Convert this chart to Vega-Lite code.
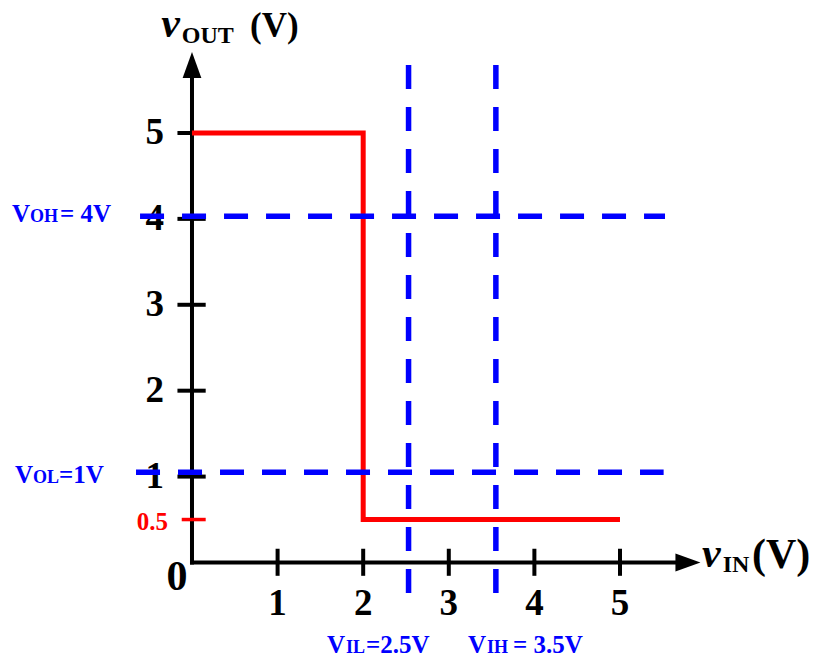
{
  "$schema": "https://vega.github.io/schema/vega-lite/v6.json",
  "width": 819,
  "height": 663,
  "autosize": "none",
  "padding": 0,
  "background": "white",
  "config": {"view": {"stroke": null}},
  "encoding": {
    "x": {"field": "x", "type": "quantitative", "scale": {"domain": [-2.243, 7.325], "nice": false, "zero": false}, "axis": null},
    "y": {"field": "y", "type": "quantitative", "scale": {"domain": [-1.17, 6.548], "nice": false, "zero": false}, "axis": null}
  },
  "layer": [
    {
      "data": {"values": [{"x": 0, "y": 0, "x2": 0, "y2": 5.75}, {"x": 0, "y": 0, "x2": 5.75, "y2": 0}]},
      "mark": {"type": "rule", "color": "black", "strokeWidth": 4, "strokeCap": "square"},
      "encoding": {"x2": {"field": "x2"}, "y2": {"field": "y2"}}
    },
    {
      "data": {"values": [{"x": 0, "y": 5.792}]},
      "mark": {"type": "point", "shape": "M0,-1L0.72,1L-0.72,1Z", "size": 676, "filled": true, "color": "black", "opacity": 1, "strokeWidth": 0}
    },
    {
      "data": {"values": [{"x": 5.794, "y": 0}]},
      "mark": {"type": "point", "shape": "M0,-1L0.72,1L-0.72,1Z", "size": 625, "angle": 90, "filled": true, "color": "black", "opacity": 1, "strokeWidth": 0}
    },
    {
      "data": {"values": [
        {"x": -0.17, "x2": 0.16, "y": 1, "y2": 1},
        {"x": -0.17, "x2": 0.16, "y": 2, "y2": 2},
        {"x": -0.17, "x2": 0.16, "y": 3, "y2": 3},
        {"x": -0.17, "x2": 0.16, "y": 4, "y2": 4},
        {"x": -0.17, "x2": 0.16, "y": 5, "y2": 5},
        {"x": 1, "x2": 1, "y": -0.155, "y2": 0.16},
        {"x": 2, "x2": 2, "y": -0.155, "y2": 0.16},
        {"x": 3, "x2": 3, "y": -0.155, "y2": 0.16},
        {"x": 4, "x2": 4, "y": -0.155, "y2": 0.16},
        {"x": 5, "x2": 5, "y": -0.155, "y2": 0.16}
      ]},
      "mark": {"type": "rule", "color": "black", "strokeWidth": 4},
      "encoding": {"x2": {"field": "x2"}, "y2": {"field": "y2"}}
    },
    {
      "data": {"values": [{"x": -0.12, "x2": 0.16, "y": 0.5, "y2": 0.5}]},
      "mark": {"type": "rule", "color": "#ff0000", "strokeWidth": 3.5},
      "encoding": {"x2": {"field": "x2"}, "y2": {"field": "y2"}}
    },
    {
      "data": {"values": [{"i": 0, "x": 0, "y": 5}, {"i": 1, "x": 2, "y": 5}, {"i": 2, "x": 2, "y": 0.5}, {"i": 3, "x": 5, "y": 0.5}]},
      "mark": {"type": "line", "color": "#ff0000", "strokeWidth": 5, "strokeJoin": "miter", "strokeCap": "butt"},
      "encoding": {"order": {"field": "i", "type": "quantitative"}}
    },
    {
      "data": {"values": [
        {"x": -0.327, "y": 1, "t": "1"},
        {"x": -0.327, "y": 2, "t": "2"},
        {"x": -0.327, "y": 3, "t": "3"},
        {"x": -0.327, "y": 4, "t": "4"},
        {"x": -0.327, "y": 5, "t": "5"}
      ]},
      "mark": {"type": "text", "align": "right", "baseline": "middle", "font": "Liberation Serif", "fontWeight": "bold", "fontSize": 37, "color": "black"},
      "encoding": {"text": {"field": "t"}}
    },
    {
      "data": {"values": [
        {"x": 1, "y": -0.48, "t": "1"},
        {"x": 2, "y": -0.48, "t": "2"},
        {"x": 3, "y": -0.48, "t": "3"},
        {"x": 4, "y": -0.48, "t": "4"},
        {"x": 5, "y": -0.48, "t": "5"}
      ]},
      "mark": {"type": "text", "align": "center", "baseline": "middle", "font": "Liberation Serif", "fontWeight": "bold", "fontSize": 37, "color": "black"},
      "encoding": {"text": {"field": "t"}}
    },
    {
      "data": {"values": [{"x": -0.175, "y": -0.169, "t": "0"}]},
      "mark": {"type": "text", "align": "center", "baseline": "middle", "font": "Liberation Serif", "fontWeight": "bold", "fontSize": 42, "color": "black"},
      "encoding": {"text": {"field": "t"}}
    },
    {
      "data": {"values": [{"x": -0.28, "y": 0.47, "t": "0.5"}]},
      "mark": {"type": "text", "align": "right", "baseline": "middle", "font": "Liberation Serif", "fontWeight": "bold", "fontSize": 25, "color": "#ff0000"},
      "encoding": {"text": {"field": "t"}}
    },
    {
      "data": {"values": [{"x": -0.36, "y": 6.118, "t": "v"}, {"x": 5.958, "y": -0.052, "t": "v"}]},
      "mark": {"type": "text", "align": "left", "baseline": "alphabetic", "font": "Liberation Serif", "fontWeight": "bold", "fontStyle": "italic", "fontSize": 42, "color": "black"},
      "encoding": {"text": {"field": "t"}}
    },
    {
      "data": {"values": [{"x": -0.12, "y": 6.048, "t": "OUT"}, {"x": 6.20, "y": -0.111, "t": "IN"}]},
      "mark": {"type": "text", "align": "left", "baseline": "alphabetic", "font": "Liberation Serif", "fontWeight": "bold", "fontSize": 24, "color": "black"},
      "encoding": {"text": {"field": "t"}}
    },
    {
      "data": {"values": [{"x": 0.678, "y": 6.118, "t": "(V)"}]},
      "mark": {"type": "text", "align": "left", "baseline": "alphabetic", "font": "Liberation Serif", "fontWeight": "bold", "fontSize": 35, "color": "black"},
      "encoding": {"text": {"field": "t"}}
    },
    {
      "data": {"values": [{"x": 6.542, "y": -0.06, "t": "(V)"}]},
      "mark": {"type": "text", "align": "left", "baseline": "alphabetic", "font": "Liberation Serif", "fontWeight": "bold", "fontSize": 42, "color": "black"},
      "encoding": {"text": {"field": "t"}}
    },
    {
      "data": {"values": [{"x": -0.607, "x2": 5.526, "y": 4.03, "y2": 4.03}, {"x": -0.654, "x2": 5.51, "y": 1.05, "y2": 1.05}]},
      "mark": {"type": "rule", "color": "#0000ff", "strokeWidth": 5.5, "strokeDash": [24, 18]},
      "encoding": {"x2": {"field": "x2"}, "y2": {"field": "y2"}}
    },
    {
      "data": {"values": [{"x": 2.53, "x2": 2.53, "y": 5.792, "y2": -0.42}, {"x": 3.55, "x2": 3.55, "y": 5.792, "y2": -0.42}]},
      "mark": {"type": "rule", "color": "#0000ff", "strokeWidth": 5.5, "strokeDash": [24, 18]},
      "encoding": {"x2": {"field": "x2"}, "y2": {"field": "y2"}}
    },
    {
      "data": {"values": [
        {"x": -2.103, "y": 3.964, "t": "V"},
        {"x": -1.542, "y": 3.964, "t": "= 4V"},
        {"x": -2.068, "y": 0.925, "t": "V"},
        {"x": -1.554, "y": 0.925, "t": "=1V"},
        {"x": 1.577, "y": -1.054, "t": "V"},
        {"x": 2.033, "y": -1.054, "t": "=2.5V"},
        {"x": 3.224, "y": -1.054, "t": "V"},
        {"x": 3.75, "y": -1.054, "t": "= 3.5V"}
      ]},
      "mark": {"type": "text", "align": "left", "baseline": "alphabetic", "font": "Liberation Serif", "fontWeight": "bold", "fontSize": 25, "color": "#0000ff"},
      "encoding": {"text": {"field": "t"}}
    },
    {
      "data": {"values": [
        {"x": -1.893, "y": 3.964, "t": "OH"},
        {"x": -1.857, "y": 0.925, "t": "OL"},
        {"x": 1.799, "y": -1.054, "t": "IL"},
        {"x": 3.446, "y": -1.054, "t": "IH"}
      ]},
      "mark": {"type": "text", "align": "left", "baseline": "alphabetic", "font": "Liberation Serif", "fontWeight": "bold", "fontSize": 18, "color": "#0000ff"},
      "encoding": {"text": {"field": "t"}}
    }
  ]
}
